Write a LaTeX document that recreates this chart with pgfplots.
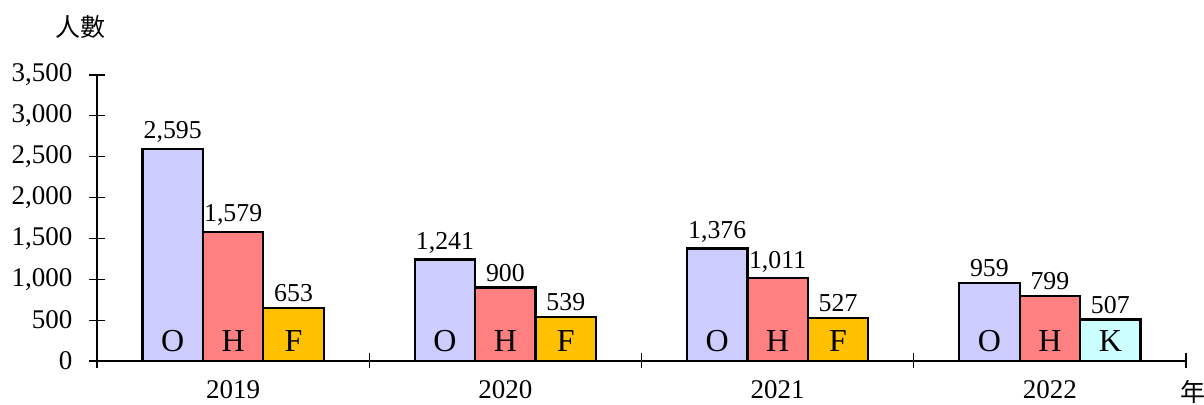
\documentclass[border=0pt]{standalone}
\usepackage{fontspec}
\setmainfont{Liberation Serif}
\newfontfamily\cjk{Noto Sans CJK TC}
\usepackage{pgfplots}
\pgfplotsset{compat=1.18}
\definecolor{cO}{HTML}{CCCCFF}
\definecolor{cH}{HTML}{FF8080}
\definecolor{cF}{HTML}{FFC000}
\definecolor{cK}{HTML}{CCFFFF}
\begin{document}
\begin{tikzpicture}
\begin{axis}[
  scale only axis, width=544.5pt, height=143pt,
  xmin=-0.5, xmax=3.5, ymin=0, ymax=3500,
  enlargelimits=false,
  axis x line=bottom, axis y line=left,
  axis line style={-, line width=0.7pt},
  tick align=center,
  major tick length=7.5pt,
  tick style={black, line width=0.6pt},
  xtick={-0.5,0.5,1.5,2.5,3.5},
  xticklabels={},
  extra x ticks={0,1,2,3},
  extra x tick labels={2019,2020,2021,2022},
  extra x tick style={major tick length=0pt},
  xticklabel style={font=\fontsize{13.5}{14}\selectfont, yshift=-6pt},
  ytick={0,500,...,3500},
  yticklabel style={font=\fontsize{13.5}{14}\selectfont, xshift=-5pt},
  /pgf/number format/assume math mode=true,
  /pgf/number format/1000 sep={,},
  ylabel={\cjk 人數},
  ylabel style={at={(axis description cs:-0.0156,1.168)}, rotate=-90, anchor=center, font=\fontsize{12.5}{13}\selectfont},
  xlabel={\cjk 年},
  xlabel style={at={(axis description cs:1.0064,-0.108)}, anchor=center, font=\fontsize{12.5}{13}\selectfont},
  clip=false,
  nodes near coords style={font=\fontsize{12.9}{13}\selectfont, inner sep=2.5pt},
]
\addplot[ybar, bar shift=0pt, bar width=0.222, fill=cO, draw=black, line width=1.1pt, nodes near coords]
  coordinates {(-0.222,2595) (0.778,1241) (1.778,1376) (2.778,959)};
\addplot[ybar, bar shift=0pt, bar width=0.222, fill=cH, draw=black, line width=1.1pt, nodes near coords]
  coordinates {(0,1579) (1,900) (2,1011) (3,799)};
\addplot[ybar, bar shift=0pt, bar width=0.222, fill=cF, draw=black, line width=1.1pt, nodes near coords]
  coordinates {(0.222,653) (1.222,539) (2.222,527)};
\addplot[ybar, bar shift=0pt, bar width=0.222, fill=cK, draw=black, line width=1.1pt, nodes near coords]
  coordinates {(3.222,507)};
\addplot[draw=none, mark=none, nodes near coords, point meta=explicit symbolic,
  nodes near coords style={anchor=south, yshift=2pt, font=\fontsize{16}{16}\selectfont}]
  coordinates {(-0.222,0)[O] (0,0)[H] (0.222,0)[F]
               (0.778,0)[O] (1,0)[H] (1.222,0)[F]
               (1.778,0)[O] (2,0)[H] (2.222,0)[F]
               (2.778,0)[O] (3,0)[H] (3.222,0)[K]};
\end{axis}
\pgfresetboundingbox
\path (-48.5pt,-22pt) rectangle (553.5pt,180.5pt);
\end{tikzpicture}
\end{document}
